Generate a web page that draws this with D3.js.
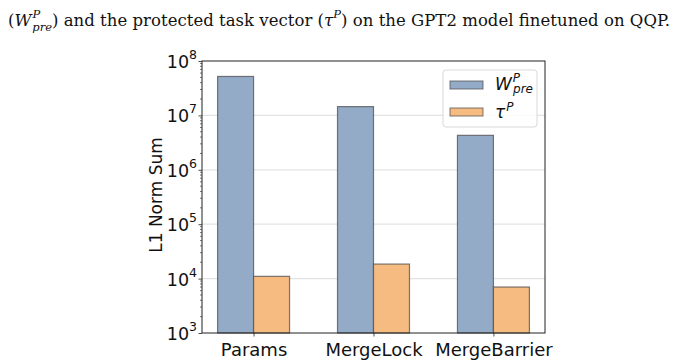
<!DOCTYPE html>
<html>
<head>
<meta charset="utf-8">
<script src="https://cdn.jsdelivr.net/npm/d3@7"></script>
<style>
  body { margin: 0; background: #fff; }
  svg { display: block; }
</style>
</head>
<body>
<div id="chart"></div>
<script>
// data
var categories = ["Params", "MergeLock", "MergeBarrier"];
var wpreValues = [5.2e7, 1.45e7, 4.3e6];
var tauValues = [1.1e4, 1.85e4, 7.0e3];
var yTicks = [1e3, 1e4, 1e5, 1e6, 1e7, 1e8];

var blueColor = "#93abc7",
    orangeColor = "#f5bb80",
    edgeColor = "#4d4d4d";

var width = 677, height = 363,
    margin = {top: 61, left: 202, right: 132, bottom: 30};
var plotW = width - margin.left - margin.right,
    plotH = height - margin.top - margin.bottom;

var svg = d3.select("#chart").append("svg")
    .attr("width", width)
    .attr("height", height);

// caption line (cropped paper text)
var cap = svg.append("text")
    .attr("x", 8).attr("y", 26)
    .attr("textLength", 662)
    .attr("lengthAdjust", "spacing")
    .style("font-family", "'DejaVu Serif', 'Liberation Serif', serif")
    .style("font-size", "16.5px")
    .attr("fill", "#111");
cap.append("tspan").text("(");
cap.append("tspan").style("font-style", "italic").text("W");
cap.append("tspan").style("font-style", "italic").style("font-size", "11.5px").attr("dy", -8).attr("dx", 1).text("P");
cap.append("tspan").style("font-style", "italic").style("font-size", "11.5px").attr("dy", 13).attr("dx", -8).text("pre");
cap.append("tspan").attr("dy", -5).text(") and the protected task vector (");
cap.append("tspan").style("font-style", "italic").text("τ");
cap.append("tspan").style("font-style", "italic").style("font-size", "11.5px").attr("dy", -8).text("P");
cap.append("tspan").attr("dy", 8).text(") on the GPT2 model finetuned on QQP.");

var g = svg.append("g")
    .attr("transform", "translate(" + margin.left + "," + margin.top + ")");

var x = d3.scaleLinear().domain([-0.43, 2.43]).range([0, plotW]);
var y = d3.scaleLog().domain([1e3, 1e8]).range([plotH, 0]);
var barW = 0.3;

// grid
g.selectAll(".grid")
    .data(yTicks.slice(1, -1))
    .enter().append("line")
    .attr("x1", 0).attr("x2", plotW)
    .attr("y1", function(d) { return y(d); })
    .attr("y2", function(d) { return y(d); })
    .style("stroke", "#e3e3e3")
    .style("stroke-width", 1.2);

// bars
g.selectAll(".bar-w")
    .data(wpreValues)
    .enter().append("rect")
    .attr("x", function(d, i) { return x(i - barW); })
    .attr("width", x(barW) - x(0))
    .attr("y", function(d) { return y(d); })
    .attr("height", function(d) { return plotH - y(d); })
    .style("fill", blueColor)
    .style("stroke", edgeColor)
    .style("stroke-opacity", 0.75)
    .style("stroke-width", 1.2);

g.selectAll(".bar-t")
    .data(tauValues)
    .enter().append("rect")
    .attr("x", function(d, i) { return x(i); })
    .attr("width", x(barW) - x(0))
    .attr("y", function(d) { return y(d); })
    .attr("height", function(d) { return plotH - y(d); })
    .style("fill", orangeColor)
    .style("stroke", edgeColor)
    .style("stroke-opacity", 0.75)
    .style("stroke-width", 1.2);

// minor ticks on log axis
var minor = [];
for (var e = 3; e < 8; e++) {
    for (var m = 2; m < 10; m++) minor.push(m * Math.pow(10, e));
}
g.selectAll(".minor")
    .data(minor)
    .enter().append("line")
    .attr("x1", -2).attr("x2", 0)
    .attr("y1", function(d) { return y(d); })
    .attr("y2", function(d) { return y(d); })
    .style("stroke", "#222")
    .style("stroke-width", 0.6);

// y axis
var yAxis = d3.axisLeft(y).tickValues(yTicks).tickSize(3.5).tickFormat("");
var ya = g.append("g").call(yAxis);
ya.select(".domain").remove();
ya.selectAll("line").style("stroke", "#222").style("stroke-width", 0.8);

g.selectAll(".ylab")
    .data(yTicks)
    .enter().append("text")
    .attr("x", -5)
    .attr("y", function(d) { return y(d) + 7; })
    .attr("text-anchor", "end")
    .style("font-family", "'DejaVu Sans', sans-serif")
    .style("font-size", "17.5px")
    .attr("fill", "#111")
    .each(function(d) {
        var t = d3.select(this);
        t.append("tspan").text("10");
        t.append("tspan").attr("dy", -9).style("font-size", "12.5px").text(Math.round(Math.log10(d)));
    });

// x axis
var xAxis = d3.axisBottom(x).tickValues([0, 1, 2]).tickSize(3.5)
    .tickFormat(function(d) { return categories[d]; });
var xa = g.append("g").attr("transform", "translate(0," + plotH + ")").call(xAxis);
xa.select(".domain").remove();
xa.selectAll("line").style("stroke", "#222").style("stroke-width", 0.8);
xa.selectAll("text")
    .attr("dy", "0.9em")
    .style("font-family", "'DejaVu Sans', sans-serif")
    .style("font-size", "18px")
    .attr("fill", "#111");

// frame
g.append("rect")
    .attr("width", plotW).attr("height", plotH)
    .style("fill", "none")
    .style("stroke", "#222")
    .style("stroke-width", 1);

// y label
g.append("text")
    .attr("transform", "translate(-40," + (plotH / 2 - 2) + ") rotate(-90)")
    .attr("text-anchor", "middle")
    .style("font-family", "'DejaVu Sans', sans-serif")
    .style("font-size", "17px")
    .attr("fill", "#111")
    .text("L1 Norm Sum");

// legend
var lg = g.append("g").attr("transform", "translate(" + (plotW - 102) + ",9)");
lg.append("rect")
    .attr("width", 94).attr("height", 57).attr("rx", 3)
    .style("fill", "#fff").style("fill-opacity", 0.8)
    .style("stroke", "#d9d9d9");
var legendItems = [{c: blueColor, y: 15}, {c: orangeColor, y: 42}];
lg.selectAll(".lpatch")
    .data(legendItems)
    .enter().append("rect")
    .attr("x", 7).attr("y", function(d) { return d.y - 4; })
    .attr("width", 33).attr("height", 8)
    .style("fill", function(d) { return d.c; })
    .style("stroke", edgeColor).style("stroke-opacity", 0.75);
var l1 = lg.append("text").attr("x", 52).attr("y", 20)
    .style("font-family", "'DejaVu Sans', sans-serif").style("font-size", "17px")
    .style("font-style", "italic").attr("fill", "#111");
l1.append("tspan").text("W");
l1.append("tspan").attr("dy", -8).attr("dx", 1).style("font-size", "12px").text("P");
l1.append("tspan").attr("dy", 11).attr("dx", -7).style("font-size", "12px").text("pre");
var l2 = lg.append("text").attr("x", 52).attr("y", 48)
    .style("font-family", "'DejaVu Sans', sans-serif").style("font-size", "17px")
    .style("font-style", "italic").attr("fill", "#111");
l2.append("tspan").text("τ");
l2.append("tspan").attr("dy", -7).attr("dx", 1).style("font-size", "12px").text("P");
</script>
</body>
</html>
